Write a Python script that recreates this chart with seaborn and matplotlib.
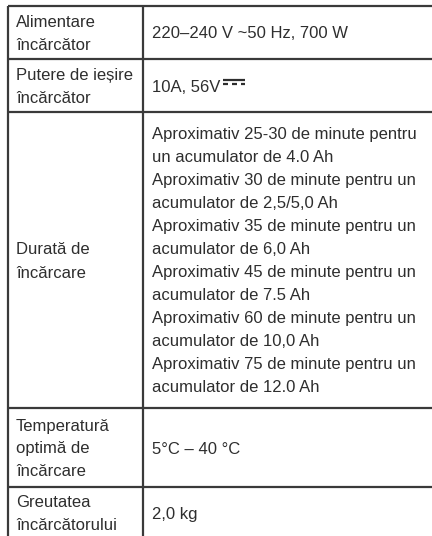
import matplotlib
matplotlib.use("Agg")
import matplotlib.pyplot as plt
from matplotlib import font_manager
from matplotlib.ft2font import FT2Font
import seaborn as sns

# table content
labels = [
    ["Alimentare", "încărcător"],
    ["Putere de ieșire", "încărcător"],
    ["Durată de", "încărcare"],
    ["Temperatură", "optimă de", "încărcare"],
    ["Greutatea", "încărcătorului"],
]
values = [
    ["220–240 V ~50 Hz, 700 W"],
    ["10A, 56V"],
    ["Aproximativ 25-30 de minute pentru",
     "un acumulator de 4.0 Ah",
     "Aproximativ 30 de minute pentru un",
     "acumulator de 2,5/5,0 Ah",
     "Aproximativ 35 de minute pentru un",
     "acumulator de 6,0 Ah",
     "Aproximativ 45 de minute pentru un",
     "acumulator de 7.5 Ah",
     "Aproximativ 60 de minute pentru un",
     "acumulator de 10,0 Ah",
     "Aproximativ 75 de minute pentru un",
     "acumulator de 12.0 Ah"],
    ["5°C – 40 °C"],
    ["2,0 kg"],
]
dc_symbol = "\u2393"  # direct current sign after "10A, 56V"

# layout (pixels)
row_heights = [53, 53, 296, 79, 51]
top = 6
left, split, right = 8, 143, 440
line_h = 23
text_pad = 8

sns.set_style("white")
plt.rcParams["font.family"] = ["Liberation Sans", "DejaVu Sans"]

fig = plt.figure(figsize=(4.32, 5.36), dpi=100)
ax = fig.add_axes([0, 0, 1, 1])
ax.set_xlim(0, 432)
ax.set_ylim(536, 0)
ax.axis("off")

line_col = "#3a3a3a"
text_col = "#2e2e2e"

edges = [top]
for h in row_heights:
    edges.append(edges[-1] + h)

ax.hlines(edges, left, right, colors=line_col, lw=1.6)
ax.vlines([left, split], edges[0], edges[-1], colors=line_col, lw=1.6)


def cell(x, y0, y1, lines):
    mid = (y0 + y1) / 2
    n = len(lines)
    out = []
    for i, s in enumerate(lines):
        y = mid + (i - (n - 1) / 2) * line_h + 6
        out.append(ax.text(x, y, s, ha="left", va="baseline",
                           fontsize=12, color=text_col))
    return out


texts = {}
for r in range(len(labels)):
    cell(left + text_pad, edges[r], edges[r + 1], labels[r])
    texts[r] = cell(split + text_pad + 1, edges[r], edges[r + 1], values[r])


# find an installed family with the DC sign
def has_glyph(family, ch):
    try:
        path = font_manager.findfont(font_manager.FontProperties(family=family),
                                     fallback_to_default=False)
        return ord(ch) in FT2Font(path).get_charmap()
    except Exception:
        return False


candidates = ["DejaVu Sans", "Noto Sans", "Noto Sans CJK SC", "Liberation Sans",
              "Roboto", "Open Sans", "Lato", "Inter", "DejaVu Sans Mono",
              "DejaVu Serif", "Liberation Mono", "Liberation Serif"]
sym_family = next((f for f in candidates if has_glyph(f, dc_symbol)), None)

fig.canvas.draw()
t = texts[1][0]
bb = t.get_window_extent().transformed(ax.transData.inverted())
x_end = bb.x1
base_y = t.get_position()[1]
if sym_family:
    ax.text(x_end + 3, base_y + 2, dc_symbol, ha="left", va="baseline",
            fontsize=17, fontweight="bold", color=text_col,
            family=[sym_family])
else:
    # no installed font has the sign: draw it as a solid bar over a dashed bar
    x0, w = x_end + 3, 22
    ax.plot([x0, x0 + w], [base_y - 12, base_y - 12], color=text_col,
            lw=1.6, solid_capstyle="butt")
    seg = w / 5
    for k in range(3):
        ax.plot([x0 + 2 * k * seg, x0 + (2 * k + 1) * seg],
                [base_y - 7.5, base_y - 7.5], color=text_col, lw=1.6,
                solid_capstyle="butt")

fig.savefig("out.png", dpi=100)
